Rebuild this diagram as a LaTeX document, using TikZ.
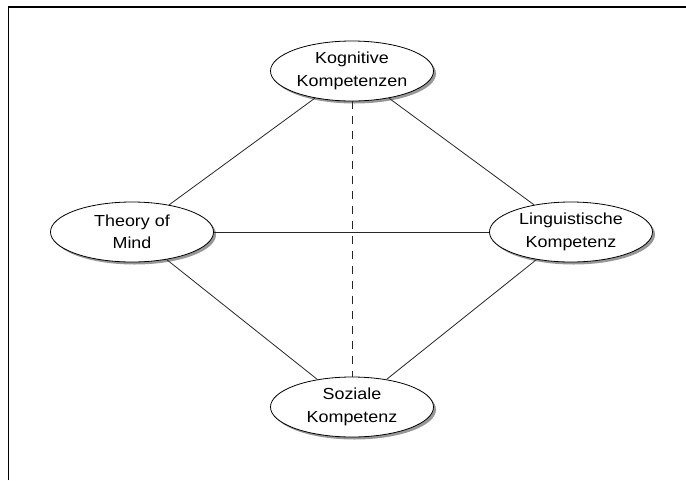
\documentclass[tikz,border=0pt]{standalone}
\usepackage{fontspec}
\setmainfont[FakeStretch=1.12]{Liberation Sans}
\usetikzlibrary{shapes.geometric,shadows}
\begin{document}
\begin{tikzpicture}[x=1pt,y=-1pt,
  comp/.style={ellipse, draw=black, line width=0.8pt, fill=white,
    minimum width=163pt, minimum height=60pt, inner sep=0pt, align=center,
    font=\fontsize{16}{22.5}\selectfont,
    drop shadow={shadow xshift=2.5pt, shadow yshift=-2.5pt, fill=black!45, opacity=0.9}},
  link/.style={draw=black!85, line width=0.8pt},
  frameline/.style={line width=1.6pt}]
  \useasboundingbox (0,0) rectangle (686,480);

  % open frame: top and left edges only
  \draw[frameline] (8.5,480) -- (8.5,7.2) -- (686,7.2);

  % competence nodes
  \node[comp] (K) at (352,71)  {Kognitive\\Kompetenzen};
  \node[comp] (T) at (132,232) {Theory of\\Mind};
  \node[comp] (L) at (571,232) {Linguistische\\Kompetenz};
  \node[comp] (S) at (352,407) {Soziale\\Kompetenz};

  % relations
  \draw[link] (K) -- (T);
  \draw[link] (K) -- (L);
  \draw[link] (T) -- (S);
  \draw[link] (L) -- (S);
  \draw[link] (T) -- (L);
  \draw[link, dash pattern=on 8pt off 7pt] (K) -- (S);
\end{tikzpicture}
\end{document}
